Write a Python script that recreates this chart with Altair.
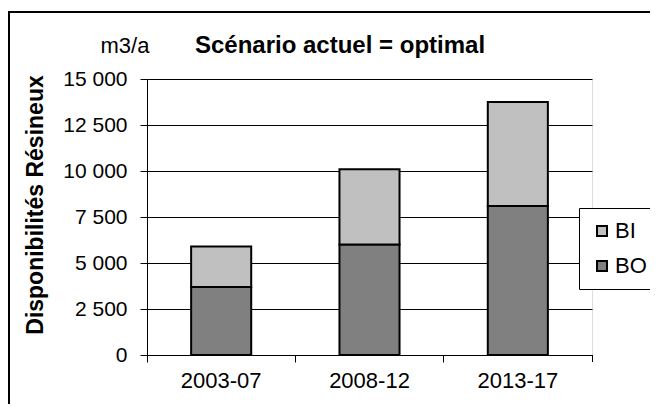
import altair as alt
import pandas as pd

categories = ["2003-07", "2008-12", "2013-17"]
bo_values = [3700, 6000, 8100]
bi_values = [2200, 4100, 5650]
series = ["BI", "BO"]
colors = ["#C0C0C0", "#808080"]
y_ticks = [0, 2500, 5000, 7500, 10000, 12500, 15000]

rows = []
for c, bo, bi in zip(categories, bo_values, bi_values):
    rows.append({"periode": c, "serie": "BO", "valeur": bo, "ord": 0})
    rows.append({"periode": c, "serie": "BI", "valeur": bi, "ord": 1})
df = pd.DataFrame(rows)

FONT = "Liberation Sans"
W, H = 445, 276

bars = alt.Chart(df).mark_bar(
    width=alt.RelativeBandSize(0.405), stroke="black", strokeWidth=2
).encode(
    x=alt.X("periode:N", sort=categories, title=None,
            scale=alt.Scale(paddingInner=0, paddingOuter=0),
            axis=alt.Axis(labelAngle=0, bandPosition=0, domainColor="black",
                          tickColor="black", tickSize=7, labelFont=FONT,
                          labelFontSize=22, labelColor="black", labelPadding=8,
                          grid=False)),
    y=alt.Y("valeur:Q", stack="zero", title=None,
            scale=alt.Scale(domain=[0, 15000], nice=False),
            axis=alt.Axis(values=y_ticks, domainColor="black", tickColor="black",
                          tickSize=7, gridColor="black", gridWidth=1,
                          gridOpacity=1,
                          labelFont=FONT, labelFontSize=21, labelColor="black",
                          labelPadding=13,
                          labelExpr="replace(format(datum.value, ','), ',', ' ')")),
    color=alt.Color("serie:N", scale=alt.Scale(domain=series, range=colors),
                    legend=alt.Legend(title=None, orient="none", legendX=432,
                                      legendY=129, strokeColor="black",
                                      fillColor="white", padding=12,
                                      symbolType="square", symbolSize=100,
                                      symbolStrokeColor="black",
                                      symbolStrokeWidth=2, labelFont=FONT,
                                      labelFontSize=22, labelColor="black",
                                      rowPadding=13, labelOffset=2)),
    order=alt.Order("ord:Q"),
)

end_tick = alt.Chart(pd.DataFrame({"a": [0]})).mark_rule(color="black").encode(
    x=alt.value(W + 0.5), y=alt.value(H), y2=alt.value(H + 7)
)

border_top = alt.Chart(pd.DataFrame({"a": [0]})).mark_rule(color="black", strokeWidth=2).encode(
    x=alt.value(-139), x2=alt.value(W + 200), y=alt.value(-67)
)
border_left = alt.Chart(pd.DataFrame({"a": [0]})).mark_rule(color="black", strokeWidth=2).encode(
    x=alt.value(-138), y=alt.value(-68), y2=alt.value(H + 200)
)

title = alt.Chart(pd.DataFrame({"t": ["Scénario actuel = optimal"]})).mark_text(
    font=FONT, fontSize=24, fontWeight="bold", color="black", baseline="alphabetic"
).encode(text="t:N", x=alt.value(193), y=alt.value(-26))

unit = alt.Chart(pd.DataFrame({"t": ["m3/a"]})).mark_text(
    font=FONT, fontSize=22, color="black", baseline="alphabetic"
).encode(text="t:N", x=alt.value(-22), y=alt.value(-26))

ytitle = alt.Chart(pd.DataFrame({"t": ["Disponibilités Résineux"]})).mark_text(
    font=FONT, fontSize=23, fontWeight="bold", color="black", baseline="middle",
    angle=270
).encode(text="t:N", x=alt.value(-111), y=alt.value(126))

chart = alt.layer(bars, end_tick, border_top, border_left, title, unit, ytitle).properties(
    width=W, height=H,
    autosize=alt.AutoSizeParams(type="none"),
    padding={"left": 139, "top": 71, "right": 58, "bottom": 49},
).configure_view(stroke=None).configure(background="white")

chart.save("out.html", embed_options={"renderer": "svg", "actions": False})
